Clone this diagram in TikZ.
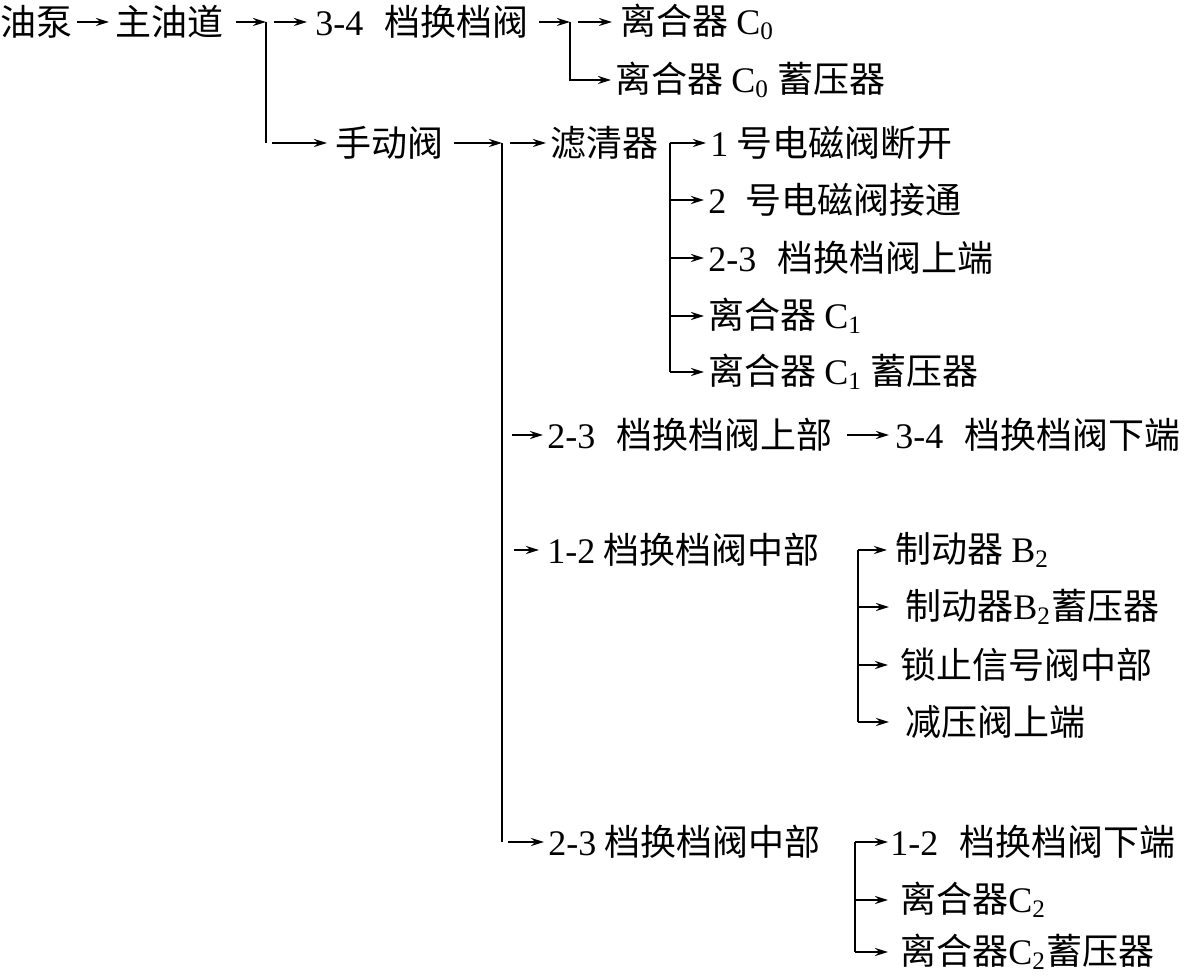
\documentclass[tikz,border=0pt]{standalone}
\usepackage{fontspec}
\setmainfont{Liberation Serif}
\newfontfamily\cjk{Noto Sans CJK SC}
\newfontfamily\latfont{Liberation Serif}
\newcommand{\lat}[1]{{\latfont #1}}
\usepackage{tikz}
\usetikzlibrary{arrows.meta}

\begin{document}
\begin{tikzpicture}[x=0.5pt, y=-0.5pt,
  lbl/.style={anchor=west, inner sep=0pt, font=\cjk\fontsize{18}{20}\selectfont},
  arr/.style={-{Stealth[length=6.5pt,width=4pt]}, line width=1.1pt},
  jline/.style={line width=1.1pt}]
  \useasboundingbox (0,0) rectangle (1184,977);

  % Oil pump and main passage
  \node[lbl] (pump) at (0,22) {油泵};
  \node[lbl] (mainp) at (115,22) {主油道};
  \coordinate (jmain) at (266,22);
  \coordinate (jmainb) at (266,143);
  \draw[arr] ([xshift=2pt]pump.east) -- ([xshift=-3pt]mainp.west);
  \draw[arr] ([xshift=6pt]mainp.east) -- (jmain);
  \draw[jline] (jmain) -- (jmainb);

  % 3-4 shift valve branch
  \node[lbl] (sv34) at (315,22) {\lat{3-4}\hspace{0.6em}档换档阀};
  \node[lbl] (cz) at (620,22) {离合器 \lat{C\textsubscript{0}}};
  \node[lbl] (czacc) at (615,80) {离合器 \lat{C\textsubscript{0}} 蓄压器};
  \coordinate (jsv) at (570,22);
  \draw[arr] ([xshift=4pt]jmain) -- ([xshift=-4pt]sv34.west);
  \draw[arr] ([xshift=5pt]sv34.east) -- (jsv);
  \draw[arr] ([xshift=4pt]jsv) -- ([xshift=-4pt]cz.west);
  \draw[arr] (jsv) |- ([xshift=-2pt]czacc.west);

  % Manual valve
  \node[lbl] (manual) at (335,143) {手动阀};
  \coordinate (jman) at (502,143);
  \coordinate (jmanb) at (502,842);
  \draw[arr] ([xshift=3pt]jmainb) -- ([xshift=-4pt]manual.west);
  \draw[arr] ([xshift=5pt]manual.east) -- (jman);
  \draw[jline] (jman) -- (jmanb);

  % Filter branch
  \node[lbl] (filter) at (550,143) {滤清器};
  \node[lbl] (sol1) at (710,143) {\lat{1} 号电磁阀断开};
  \node[lbl] (sol2) at (708,200) {\lat{2}\hspace{0.3em} 号电磁阀接通};
  \node[lbl] (sv23up) at (708,258) {\lat{2-3}\hspace{0.6em}档换档阀上端};
  \node[lbl] (cone) at (708,316) {离合器 \lat{C\textsubscript{1}}};
  \node[lbl] (coneacc) at (708,372) {离合器 \lat{C\textsubscript{1}} 蓄压器};
  \coordinate (jfil) at (670,143);
  \coordinate (jfilb) at (670,372);
  \draw[arr] ([xshift=4pt]jman) -- ([xshift=-2pt]filter.west);
  \draw[jline] (jfil) -- (jfilb);
  \draw[arr] (jfil) -- ([xshift=-2pt]sol1.west);
  \draw[arr] (jfil |- sol2.west) -- ([xshift=-2pt]sol2.west);
  \draw[arr] (jfil |- sv23up.west) -- ([xshift=-2pt]sv23up.west);
  \draw[arr] (jfil |- cone.west) -- ([xshift=-2pt]cone.west);
  \draw[arr] (jfilb) -- ([xshift=-2pt]coneacc.west);

  % 2-3 shift valve upper part
  \node[lbl] (sv23top) at (547,435) {\lat{2-3}\hspace{0.6em}档换档阀上部};
  \node[lbl] (sv34low) at (895,435) {\lat{3-4}\hspace{0.6em}档换档阀下端};
  \draw[arr] ([xshift=5pt]jman |- sv23top.west) -- ([xshift=-2pt]sv23top.west);
  \draw[arr] ([xshift=7pt]sv23top.east) -- ([xshift=-3pt]sv34low.west);

  % 1-2 shift valve middle part
  \node[lbl] (sv12mid) at (547,550) {\lat{1-2} 档换档阀中部};
  \node[lbl] (btwo) at (895,550) {制动器 \lat{B\textsubscript{2}}};
  \node[lbl] (btwoacc) at (905,607) {制动器\lat{B\textsubscript{2}}蓄压器};
  \node[lbl] (lockup) at (900,665) {锁止信号阀中部};
  \node[lbl] (reduce) at (905,722) {减压阀上端};
  \coordinate (jmid) at (858,550);
  \coordinate (jmidb) at (858,722);
  \draw[arr] ([xshift=6pt]jman |- sv12mid.west) -- ([xshift=-4pt]sv12mid.west);
  \draw[jline] (jmid) -- (jmidb);
  \draw[arr] (jmid) -- ([xshift=-4pt]btwo.west);
  \draw[arr] (jmid |- btwoacc.west) -- ([xshift=-8pt]btwoacc.west);
  \draw[arr] (jmid |- lockup.west) -- ([xshift=-6pt]lockup.west);
  \draw[arr] (jmidb) -- ([xshift=-8pt]reduce.west);

  % 2-3 shift valve middle part
  \node[lbl] (sv23mid) at (548,842) {\lat{2-3} 档换档阀中部};
  \node[lbl] (sv12low) at (890,842) {\lat{1-2}\hspace{0.6em}档换档阀下端};
  \node[lbl] (ctwo) at (900,900) {离合器\lat{C\textsubscript{2}}};
  \node[lbl] (ctwoacc) at (900,952) {离合器\lat{C\textsubscript{2}}蓄压器};
  \coordinate (jlow) at (855,842);
  \coordinate (jlowb) at (855,952);
  \draw[arr] ([xshift=3pt]jmanb) -- ([xshift=-2pt]sv23mid.west);
  \draw[jline] (jlow) -- (jlowb);
  \draw[arr] (jlow) -- ([xshift=-1pt]sv12low.west);
  \draw[arr] (jlow |- ctwo.west) -- ([xshift=-6pt]ctwo.west);
  \draw[arr] (jlowb) -- ([xshift=-6pt]ctwoacc.west);
\end{tikzpicture}
\end{document}
